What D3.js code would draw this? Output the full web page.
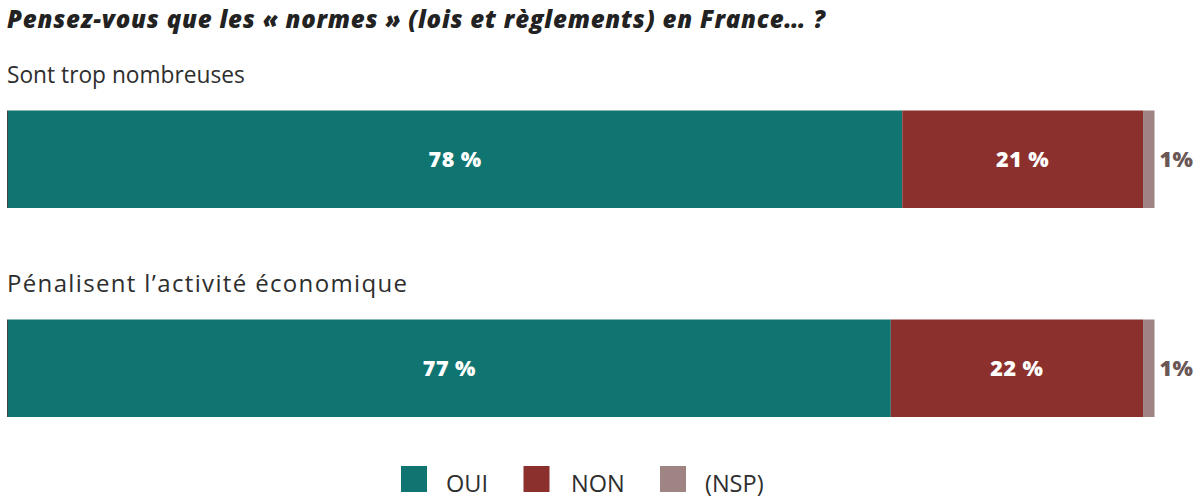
<!DOCTYPE html>
<html><head><meta charset="utf-8">
<script src="https://cdn.jsdelivr.net/npm/d3@7"></script>
<style>html,body{margin:0;padding:0;background:#fff;}svg{display:block;}</style>
</head><body>
<svg id="c" width="1200" height="504"></svg>
<script>
const title = "Pensez-vous que les « normes » (lois et règlements) en France… ?";
const categories = ["Sont trop nombreuses", "Pénalisent l’activité économique"];
const oui = [78, 77];
const non = [21, 22];
const nsp = [1, 1];
const seriesNames = ["OUI", "NON", "(NSP)"];
const ouiLabels = ["78 %", "77 %"];
const nonLabels = ["21 %", "22 %"];
const nspLabels = ["1%", "1%"];

const colors = ["#107570", "#8c302d", "#9e8482"];
const svg = d3.select("#c");
const font = "'Open Sans', 'Noto Sans', sans-serif";

const x = d3.scaleLinear().domain([0, 100]).range([8, 1154.5]);
const yBar = d3.scalePoint().domain(categories).range([110.5, 319.5]);
const barH = 97.5;
const catWidths = [238, 400];

svg.append("text").attr("x", 7).attr("y", 28)
  .attr("font-family", font).attr("font-weight", 800).attr("font-style", "italic")
  .attr("font-size", 24).attr("fill", "#222")
  .attr("textLength", 818).attr("lengthAdjust", "spacing").text(title);

const rows = categories.map((c, i) => ({cat: c, i, vals: [oui[i], non[i], nsp[i]], labels: [ouiLabels[i], nonLabels[i], nspLabels[i]]}));

const g = svg.selectAll("g.row").data(rows).join("g").attr("class", "row");

g.append("text").attr("x", 7).attr("y", d => yBar(d.cat) - 27.5)
  .attr("font-family", font).attr("font-weight", 400).attr("font-size", 24)
  .attr("fill", "#2e2e2e")
  .each(function(d) {
    const t = d3.select(this).text(d.cat);
    const w = this.getComputedTextLength();
    const target = catWidths[d.i];
    if (w > target) t.attr("font-size", 24 * target / w);
    else t.attr("textLength", target).attr("lengthAdjust", "spacing");
  });

g.each(function(d) {
  const sel = d3.select(this);
  let cum = 0;
  const segs = d.vals.map((v, k) => { const s = {x0: cum, x1: cum + v, k, label: d.labels[k]}; cum += v; return s; });
  sel.selectAll("rect").data(segs).join("rect")
    .attr("x", s => x(s.x0)).attr("width", s => x(s.x1) - x(s.x0))
    .attr("y", yBar(d.cat)).attr("height", barH)
    .attr("fill", s => colors[s.k]);
  sel.selectAll("text.v").data(segs).join("text").attr("class", "v")
    .attr("x", s => s.k < 2 ? (x(s.x0) + x(s.x1)) / 2 : x(s.x1) + 22)
    .attr("y", yBar(d.cat) + barH / 2 + 8)
    .attr("text-anchor", "middle")
    .attr("font-family", font).attr("font-weight", 800).attr("font-size", 21.5)
    .attr("letter-spacing", 0.5)
    .attr("fill", s => s.k < 2 ? "#fff" : "#6b5856")
    .text(s => s.label);
});

// left dark edge
svg.selectAll("line.edge").data(categories).join("line").attr("class", "edge")
  .attr("x1", x(0) - 0.5).attr("x2", x(0) - 0.5).attr("y1", d => yBar(d)).attr("y2", d => yBar(d) + barH)
  .attr("stroke", "#444").attr("stroke-width", 1);

// legend
const legX = [401, 523.5, 660];
const lg = svg.selectAll("g.leg").data(seriesNames).join("g").attr("class", "leg")
  .attr("transform", (d, i) => `translate(${legX[i]},466)`);
lg.append("rect").attr("width", 26).attr("height", 26).attr("fill", (d, i) => colors[i]);
lg.append("text").attr("x", (d, i) => i === 1 ? 47.5 : 45).attr("y", 25.5)
  .attr("font-family", font).attr("font-size", 23.5).attr("fill", "#2e2e2e").text(d => d);
</script>
</body></html>
